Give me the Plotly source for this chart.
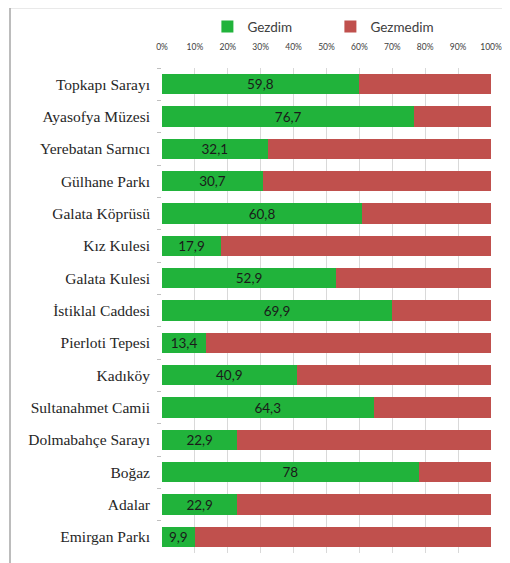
import plotly.graph_objects as go

categories = ["Topkapı Sarayı", "Ayasofya Müzesi", "Yerebatan Sarnıcı", "Gülhane Parkı",
              "Galata Köprüsü", "Kız Kulesi", "Galata Kulesi", "İstiklal Caddesi",
              "Pierloti Tepesi", "Kadıköy", "Sultanahmet Camii", "Dolmabahçe Sarayı",
              "Boğaz", "Adalar", "Emirgan Parkı"]
gezdim = [59.8, 76.7, 32.1, 30.7, 60.8, 17.9, 52.9, 69.9, 13.4, 40.9, 64.3, 22.9, 78, 22.9, 9.9]
gezmedim = [40.2, 23.3, 67.9, 69.3, 39.2, 82.1, 47.1, 30.1, 86.6, 59.1, 35.7, 77.1, 22, 77.1, 90.1]
tick_vals = [0, 10, 20, 30, 40, 50, 60, 70, 80, 90, 100]
tick_text = ["0%", "10%", "20%", "30%", "40%", "50%", "60%", "70%", "80%", "90%", "100%"]

def fmt(v):
    s = ("%g" % v)
    return s.replace(".", ",")

fig = go.Figure()
fig.add_trace(go.Bar(
    y=categories, x=gezdim, name="Gezdim", orientation="h",
    marker=dict(color="#21B33B", line=dict(width=0)),
    text=[fmt(v) for v in gezdim], textposition="inside", insidetextanchor="middle",
    textfont=dict(family="Lato", size=13.5, color="#1a1a1a"),
    textangle=0, constraintext="none",
))
fig.add_trace(go.Bar(
    y=categories, x=gezmedim, name="Gezmedim", orientation="h",
    marker=dict(color="#C0504D", line=dict(width=0)),
    textposition="none",
))

fig.update_layout(
    width=510, height=563,
    barmode="stack", bargap=0.37,
    paper_bgcolor="white", plot_bgcolor="white",
    margin=dict(l=154, r=27, t=60, b=18, autoexpand=False),
    showlegend=True,
    legend=dict(orientation="h", x=0.138, y=1.085, xanchor="left", yanchor="middle",
                font=dict(family="Lato", size=13.5, color="#404040"),
                entrywidth=78, entrywidthmode="pixels", itemwidth=30,
                traceorder="normal", bgcolor="rgba(0,0,0,0)"),
    xaxis=dict(side="top", range=[0, 100], tickvals=tick_vals, ticktext=tick_text,
               showgrid=True, gridcolor="#D9D9D9", gridwidth=1, zeroline=False,
               tickfont=dict(family="Lato", size=8.5, color="#404040"),
               ticks="", ticklabelstandoff=15, fixedrange=True, automargin=False),
    yaxis=dict(autorange="reversed", showgrid=False, zeroline=False,
               ticks="outside", tickson="boundaries", ticklen=4, tickcolor="#BFBFBF",
               tickfont=dict(family="Liberation Serif", size=15.5, color="#262626"),
               ticklabelstandoff=11, showline=False, automargin=False),
)

fig.add_shape(type="line", xref="paper", yref="paper", x0=-152/329, x1=-152/329,
              y0=-0.1, y1=(545+0.5)/485, line=dict(color="#A6A6A6", width=1.5))
fig.add_shape(type="line", xref="paper", yref="paper", x0=-152/329, x1=1.2,
              y0=(545+0.5)/485, y1=(545+0.5)/485, line=dict(color="#A6A6A6", width=1.5))

fig.write_html("out.html")
